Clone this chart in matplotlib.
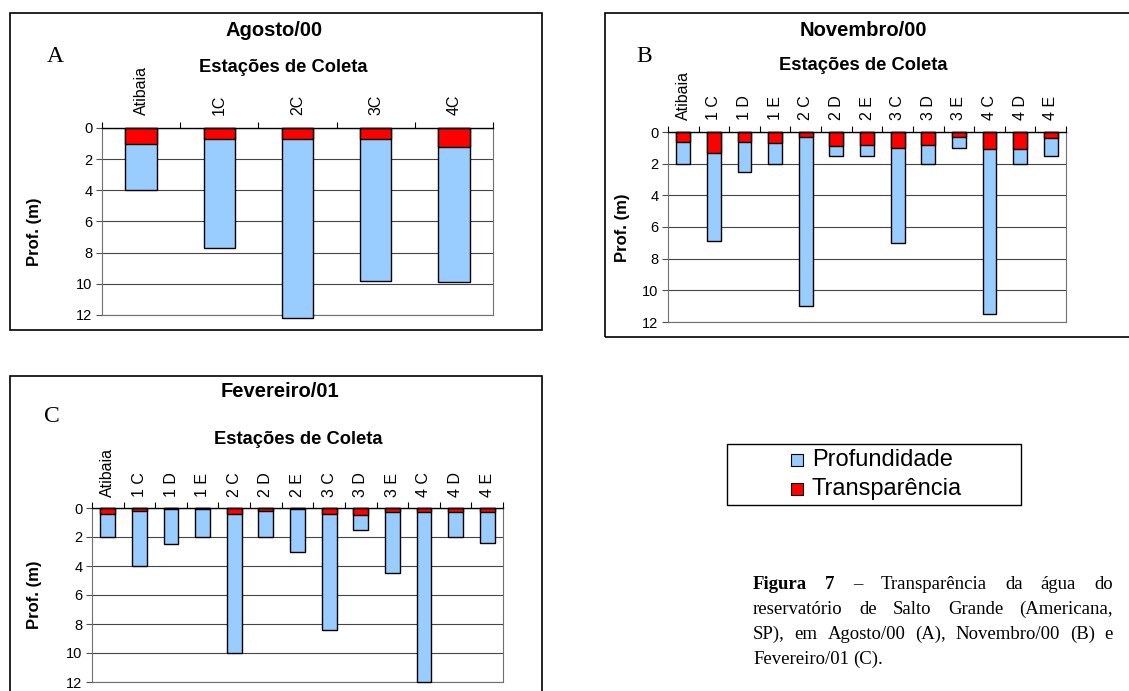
import matplotlib
matplotlib.use('Agg')
import matplotlib.pyplot as plt
from matplotlib.patches import Rectangle
import numpy as np

plt.rcParams['font.family'] = ['Liberation Sans', 'DejaVu Sans']

W, H = 1129, 691
fig = plt.figure(figsize=(W / 100, H / 100), dpi=100)

SERIF = 'Liberation Serif'
BLUE = '#99CCFF'
RED = '#FF0000'

# ---------------- data ----------------
stations_a = ['Atibaia', '1C', '2C', '3C', '4C']
depth_a = [4.0, 7.7, 12.2, 9.8, 9.9]
transp_a = [1.0, 0.7, 0.7, 0.7, 1.2]

stations_bc = ['Atibaia', '1 C', '1 D', '1 E', '2 C', '2 D', '2 E',
               '3 C', '3 D', '3 E', '4 C', '4 D', '4 E']
depth_b = [2.0, 6.9, 2.5, 2.0, 11.0, 1.5, 1.5, 7.0, 2.0, 1.0, 11.5, 2.0, 1.5]
transp_b = [0.6, 1.3, 0.6, 0.7, 0.3, 0.9, 0.8, 1.0, 0.8, 0.3, 1.1, 1.1, 0.4]
depth_c = [2.0, 4.0, 2.5, 2.0, 10.0, 2.0, 3.0, 8.4, 1.5, 4.5, 12.0, 2.0, 2.4]
transp_c = [0.4, 0.2, 0.1, 0.1, 0.4, 0.2, 0.1, 0.4, 0.5, 0.3, 0.3, 0.3, 0.3]

yticks = [0, 2, 4, 6, 8, 10, 12]
titles = ['Agosto/00', 'Novembro/00', 'Fevereiro/01']
panel_letters = ['A', 'B', 'C']
xlabel = 'Estações de Coleta'
ylabel = 'Prof. (m)'
legend_labels = ['Profundidade', 'Transparência']


def fx(x):
    return x / W


def fy(y):
    return 1 - y / H


def frame(x0, y0, x1, y1, lw=1.2):
    fig.add_artist(Rectangle((fx(x0), fy(y1)), (x1 - x0) / W, (y1 - y0) / H,
                             transform=fig.transFigure, fill=False,
                             ec='black', lw=lw, clip_on=False))


def panel(rect, stations, depth, transp, barw, pad):
    x0, y0, x1, y1 = rect
    ax = fig.add_axes([fx(x0), fy(y1), (x1 - x0) / W, (y1 - y0) / H])
    n = len(stations)
    x = np.arange(n)
    ax.bar(x, depth, width=barw, color=BLUE, edgecolor='black', lw=1.0,
           zorder=3, clip_on=False)
    ax.bar(x, transp, width=barw, color=RED, edgecolor='black', lw=1.0,
           zorder=4, clip_on=False)
    ax.set_xlim(-0.5, n - 0.5)
    ax.set_ylim(12, 0)
    ax.set_yticks(yticks)
    ax.yaxis.grid(True, color='#454545', lw=0.8)
    ax.set_axisbelow(True)
    ax.xaxis.tick_top()
    ax.set_xticks(x)
    ax.set_xticklabels(stations, rotation=90, fontsize=11.5)
    ax.set_xticks(np.arange(n + 1) - 0.5, minor=True)
    ax.tick_params(axis='x', which='major', length=0, pad=pad)
    ax.tick_params(axis='x', which='minor', length=4, width=0.8,
                   color='black', direction='out', top=True, bottom=False)
    ax.tick_params(axis='y', length=4, width=0.8, direction='out',
                   labelsize=10.5, pad=3, color='#505050')
    ax.spines['top'].set_color('black')
    ax.spines['top'].set_linewidth(1.0)
    for s in ('left', 'right', 'bottom'):
        ax.spines[s].set_color('#707070')
        ax.spines[s].set_linewidth(0.8)
    ax.spines['top'].set_zorder(5)
    return ax


TFS = 14.5   # chart title
XFS = 13.2   # "Estações de Coleta"

# ---------------- panel A ----------------
frame(10, 13, 542, 330)
panel((102, 128, 493, 315), stations_a, depth_a, transp_a, 0.40, 9)
fig.text(fx(274), fy(31), titles[0], ha='center', va='center',
         fontsize=TFS, fontweight='bold')
fig.text(fx(283), fy(67), xlabel, ha='center', va='center',
         fontsize=XFS, fontweight='bold')
fig.text(fx(47), fy(57), panel_letters[0], ha='left', va='center',
         fontsize=17, family=SERIF)
fig.text(fx(35), fy(232), ylabel, ha='center', va='center', rotation=90,
         fontsize=12, fontweight='bold')

# ---------------- panel B ----------------
frame(605, 13, 1140, 337)
panel((668, 132, 1066, 322), stations_bc, depth_b, transp_b, 0.45, 9)
fig.text(fx(863), fy(30), titles[1], ha='center', va='center',
         fontsize=TFS, fontweight='bold')
fig.text(fx(863), fy(66), xlabel, ha='center', va='center',
         fontsize=XFS, fontweight='bold')
fig.text(fx(636), fy(57), panel_letters[1], ha='left', va='center',
         fontsize=17, family=SERIF)
fig.text(fx(623), fy(228), ylabel, ha='center', va='center', rotation=90,
         fontsize=12, fontweight='bold')

# ---------------- panel C ----------------
frame(10, 376, 542, 700)
panel((92, 508, 503, 682), stations_bc, depth_c, transp_c, 0.47, 8)
fig.text(fx(280), fy(392), titles[2], ha='center', va='center',
         fontsize=TFS, fontweight='bold')
fig.text(fx(298), fy(439), xlabel, ha='center', va='center',
         fontsize=XFS, fontweight='bold')
fig.text(fx(44), fy(417), panel_letters[2], ha='left', va='center',
         fontsize=17, family=SERIF)
fig.text(fx(35), fy(595), ylabel, ha='center', va='center', rotation=90,
         fontsize=12, fontweight='bold')

# ---------------- legend ----------------
frame(727, 444, 1021, 505, lw=1.0)
for i, (lab, col) in enumerate(zip(legend_labels, [BLUE, RED])):
    yc = 460 + i * 29
    fig.add_artist(Rectangle((fx(791), fy(yc + 6)), 12 / W, 12 / H,
                             transform=fig.transFigure, fc=col, ec='black',
                             lw=0.8))
    fig.text(fx(812), fy(yc), lab, ha='left', va='center', fontsize=17)

# ---------------- caption (justified) ----------------
renderer = fig.canvas.get_renderer()
cap_lines = [
    [('Figura', 'bold'), ('7', 'bold'), ('–', 'normal'),
     ('Transparência', 'normal'), ('da', 'normal'), ('água', 'normal'),
     ('do', 'normal')],
    [(w, 'normal') for w in 'reservatório de Salto Grande (Americana,'.split()],
    [(w, 'normal') for w in 'SP), em Agosto/00 (A), Novembro/00 (B) e'.split()],
    [(w, 'normal') for w in 'Fevereiro/01 (C).'.split()],
]
cx0, cx1 = 753, 1113
for li, words in enumerate(cap_lines):
    yb = 589 + li * 25
    texts = [fig.text(0, 0, w, fontsize=13.5, family=SERIF, fontweight=wt,
                      ha='left', va='baseline') for w, wt in words]
    widths = [t.get_window_extent(renderer).width for t in texts]
    if li == len(cap_lines) - 1:
        gap = 4.0
    else:
        gap = (cx1 - cx0 - sum(widths)) / (len(words) - 1)
    xpos = cx0
    for t, wd in zip(texts, widths):
        t.set_position((fx(xpos), fy(yb)))
        xpos += wd + gap

fig.savefig('out.png', dpi=100)
